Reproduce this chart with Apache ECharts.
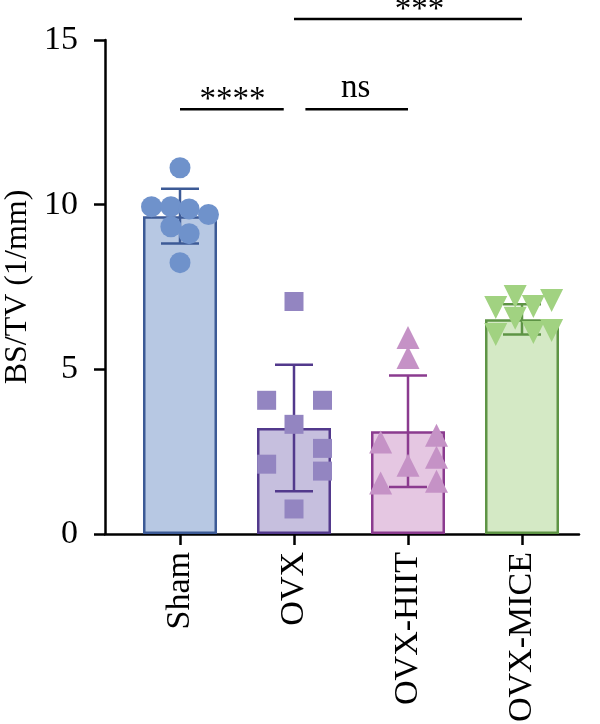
<!DOCTYPE html>
<html style="height: 100%">
<head>
<meta charset="utf-8">
</head>
<body style="height: 100%; margin: 0">
<div id="container" style="width: 600px; height: 724px"></div>
<script type="text/javascript" src="https://cdn.jsdelivr.net/npm/echarts@6/dist/echarts.min.js"></script>
<script type="text/javascript">
// groups and summary values (mean, SD)
var categories = ['Sham', 'OVX', 'OVX-HIIT', 'OVX-MICE'];
var means = [9.65, 3.22, 3.12, 6.52];
var sds = [0.83, 1.92, 1.69, 0.46];

// individual points: [jitter offset within the category, value]
var shamPts = [[0, 11.12], [-0.25, 9.94], [-0.08, 9.94], [0.08, 9.87], [0.25, 9.70], [-0.08, 9.33], [0.08, 9.12], [0, 8.24]];
var ovxPts = [[0, 7.06], [-0.24, 4.06], [0.25, 4.06], [0, 3.33], [0.25, 2.60], [-0.24, 2.12], [0.25, 1.91], [0, 0.76]];
var hiitPts = [[0, 5.97], [0, 5.36], [0.25, 3.00], [-0.24, 2.79], [0.25, 2.33], [0, 2.09], [-0.24, 1.55], [0.25, 1.60]];
var micePts = [[-0.06, 7.21], [0.26, 7.09], [-0.23, 6.88], [0.1, 6.91], [-0.06, 6.55], [-0.23, 6.06], [0.1, 6.12], [0.26, 6.18]];

// significance brackets: [from, to, height, text, text position]
var brackets = [
    [0, 0.91, 12.9, '****', 0.46],
    [1.1, 2, 12.9, 'ns', 1.54],
    [1, 3, 15.64, '***', 2.1]
];

var fills = ['#b7c8e3', '#c6bfde', '#e5c7e2', '#d4e9c5'];
var borders = ['#3c5a96', '#52398c', '#8b3b8f', '#5e9445'];
var dots = ['#6f92cb', '#9385c1', '#c592c6', '#a1d281'];
var symbols = ['circle', 'rect', 'triangle', 'triangle'];

var serif = 'Liberation Serif';

var dom = document.getElementById('container');
var myChart = echarts.init(dom);

function renderErr(params, api) {
    var i = api.value(0), m = api.value(1), sd = api.value(2);
    var top = api.coord([i, m + sd]);
    var bot = api.coord([i, m - sd]);
    var half = 19;
    var st = { stroke: borders[params.dataIndex], lineWidth: 2.5 };
    return {
        type: 'group',
        children: [
            { type: 'line', shape: { x1: top[0], y1: top[1], x2: bot[0], y2: bot[1] }, style: st },
            { type: 'line', shape: { x1: top[0] - half, y1: top[1], x2: top[0] + half, y2: top[1] }, style: st },
            { type: 'line', shape: { x1: bot[0] - half, y1: bot[1], x2: bot[0] + half, y2: bot[1] }, style: st }
        ]
    };
}

function renderBracket(params, api) {
    var a = api.coord([api.value(0), api.value(2)]);
    var b = api.coord([api.value(1), api.value(2)]);
    var t = api.coord([api.value(3), api.value(2)]);
    var txt = brackets[params.dataIndex][3];
    // asterisks sit lower than letters
    var lift = txt === 'ns' ? 4 : -8;
    return {
        type: 'group',
        children: [
            { type: 'line', shape: { x1: a[0], y1: a[1], x2: b[0], y2: b[1] }, style: { stroke: '#000', lineWidth: 2.5 } },
            {
                type: 'text',
                style: {
                    x: t[0], y: a[1] - lift,
                    text: txt,
                    align: 'center', verticalAlign: 'bottom',
                    fontSize: 33, fontFamily: serif, fill: '#000'
                }
            }
        ]
    };
}

var groupPts = [shamPts, ovxPts, hiitPts, micePts];
var scatterSeries = groupPts.map(function (pts, g) {
    return {
        type: 'scatter',
        xAxisIndex: 2,
        yAxisIndex: 1,
        symbol: symbols[g],
        symbolSize: g === 0 ? 21 : (g === 1 ? 19 : 23),
        symbolRotate: g === 3 ? 180 : 0,
        itemStyle: { color: dots[g], opacity: 1 },
        z: 4,
        data: pts.map(function (p) { return [g + p[0], p[1]]; })
    };
});

var option = {
    animation: false,
    backgroundColor: '#fff',
    grid: [
        { left: 105, right: 21, top: 40, bottom: 190, outerBoundsMode: 'none' },
        { left: 123, right: 21, top: 40, bottom: 190, outerBoundsMode: 'none' }
    ],
    xAxis: [
        {
            gridIndex: 0, type: 'value', min: 0, max: 1,
            axisLine: { show: true, lineStyle: { color: '#000', width: 2.5 } },
            axisTick: { show: false }, axisLabel: { show: false }, splitLine: { show: false }
        },
        {
            gridIndex: 1, type: 'category', data: categories,
            axisLine: { show: false },
            axisTick: { show: true, alignWithLabel: true, length: 11, lineStyle: { color: '#000', width: 2.5 } },
            axisLabel: { rotate: 90, margin: 18, color: '#000', fontSize: 34, fontFamily: serif },
            splitLine: { show: false }
        },
        {
            gridIndex: 1, type: 'value', min: -0.5, max: 3.5, show: false
        }
    ],
    yAxis: [
        {
            gridIndex: 0, type: 'value', min: 0, max: 15, interval: 5,
            name: 'BS/TV (1/mm)', nameLocation: 'middle', nameGap: 62,
            nameTextStyle: { color: '#000', fontSize: 32, fontFamily: serif },
            axisLine: { show: true, lineStyle: { color: '#000', width: 2.5 } },
            axisTick: { show: true, length: 11, lineStyle: { color: '#000', width: 2.5 } },
            axisLabel: { margin: 27, color: '#000', fontSize: 34, fontFamily: serif },
            splitLine: { show: false }
        },
        {
            gridIndex: 1, type: 'value', min: 0, max: 15, show: false
        }
    ],
    series: [
        {
            type: 'bar',
            xAxisIndex: 1,
            yAxisIndex: 1,
            barWidth: 74,
            z: 2,
            data: means.map(function (m, i) {
                return { value: m, itemStyle: { color: fills[i], borderColor: borders[i], borderWidth: 2.5 } };
            })
        },
        {
            type: 'custom',
            xAxisIndex: 2,
            yAxisIndex: 1,
            z: 3,
            renderItem: renderErr,
            data: means.map(function (m, i) { return [i, m, sds[i]]; })
        }
    ].concat(scatterSeries).concat([
        {
            type: 'custom',
            xAxisIndex: 2,
            yAxisIndex: 1,
            clip: false,
            z: 5,
            renderItem: renderBracket,
            data: brackets.map(function (b) { return [b[0], b[1], b[2], b[4]]; })
        }
    ])
};

myChart.setOption(option);
</script>
</body>
</html>
